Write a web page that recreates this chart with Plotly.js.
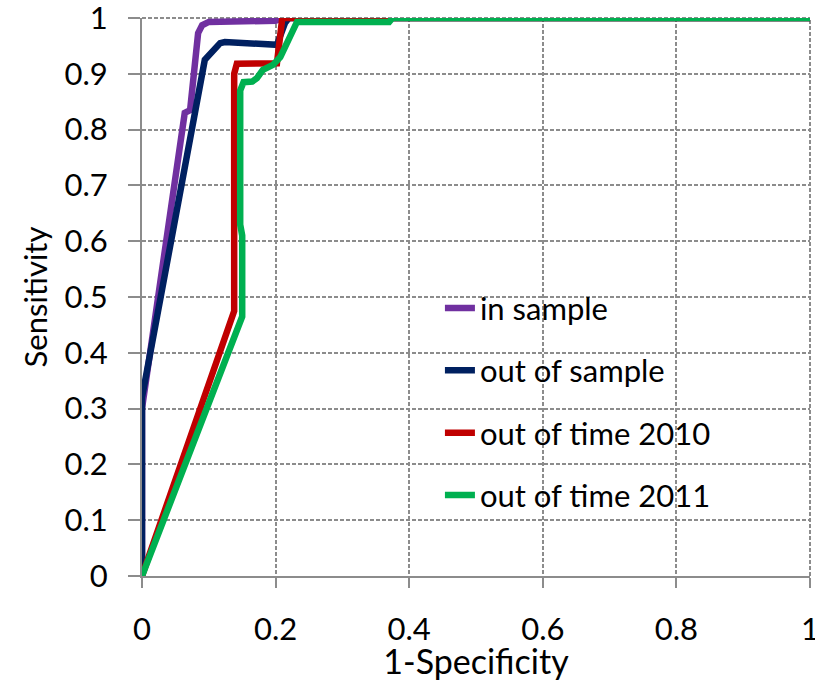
<!DOCTYPE html>
<html>
<head>
<meta charset="utf-8">
<script src="https://cdn.plot.ly/plotly-3.0.1.min.js"></script>
<style>html,body{margin:0;padding:0;background:#fff;}#chart{width:815px;height:681px;}</style>
</head>
<body>
<div id="chart"></div>
<script>
// Series names
const seriesNames = ["in sample", "out of sample", "out of time 2010", "out of time 2011"];
const seriesColors = ["#7030A0", "#002060", "#C00000", "#00B050"];

// in sample
const inSampleX = [0, 0, 0.064, 0.072, 0.084, 0.09, 0.10, 0.13, 0.20, 0.21, 1];
const inSampleY = [0, 0.30, 0.83, 0.835, 0.973, 0.987, 0.993, 0.994, 0.995, 1, 1];

// out of sample
const outSampleX = [0, 0, 0.094, 0.106, 0.117, 0.124, 0.192, 0.202, 0.214, 0.22, 1];
const outSampleY = [0, 0.32, 0.925, 0.939, 0.955, 0.957, 0.952, 0.952, 0.991, 1, 1];

// out of time 2010
const oot2010X = [0, 0.138, 0.138, 0.142, 0.202, 0.208, 0.21, 1];
const oot2010Y = [0, 0.475, 0.90, 0.918, 0.919, 0.99, 1, 1];

// out of time 2011
const oot2011X = [0, 0.15, 0.15, 0.147, 0.147, 0.152, 0.165, 0.172, 0.181, 0.196, 0.207, 0.222, 0.232, 0.37, 0.375, 1];
const oot2011Y = [0, 0.465, 0.61, 0.63, 0.87, 0.885, 0.886, 0.892, 0.907, 0.916, 0.93, 0.966, 0.993, 0.993, 1, 1];

// Tick labels
const xTickVals = [0, 0.2, 0.4, 0.6, 0.8, 1];
const xTickText = ["0", "0.2", "0.4", "0.6", "0.8", "1"];
const yTickVals = [0, 0.1, 0.2, 0.3, 0.4, 0.5, 0.6, 0.7, 0.8, 0.9, 1];
const yTickText = ["0", "0.1", "0.2", "0.3", "0.4", "0.5", "0.6", "0.7", "0.8", "0.9", "1"];

const xs = [inSampleX, outSampleX, oot2010X, oot2011X];
const ys = [inSampleY, outSampleY, oot2010Y, oot2011Y];

const traces = seriesNames.map((n, i) => ({
  x: xs[i], y: ys[i], name: n, type: "scatter", mode: "lines",
  legendgroup: "g" + i,
  line: {color: seriesColors[i], width: 6.5, shape: "linear"},
  cliponaxis: false
}));

const FONT = "Lato, 'Open Sans', sans-serif";
const GRID = "#8c8c8c";
const layout = {
  width: 815, height: 681,
  margin: {l: 142, r: 5, t: 18, b: 105},
  paper_bgcolor: "#fff", plot_bgcolor: "#fff",
  font: {family: FONT, size: 31, color: "#000"},
  showlegend: true,
  legend: {
    x: 0.446, y: 0.528, xanchor: "left", yanchor: "top",
    bgcolor: "rgba(0,0,0,0)", borderwidth: 0,
    font: {family: FONT, size: 31, color: "#000"},
    tracegroupgap: 19, itemwidth: 30
  },
  xaxis: {
    range: [0, 1], tickvals: xTickVals, ticktext: xTickText,
    showgrid: true, gridcolor: GRID, gridwidth: 2, griddash: "4px,2px",
    zeroline: false, showline: true, linecolor: GRID, linewidth: 2,
    ticks: "outside", ticklen: 10, tickwidth: 2, tickcolor: GRID,
    ticklabelstandoff: 15, ticklabeloverflow: "allow",
    tickfont: {family: FONT, size: 31}, fixedrange: true,
    title: {text: "1-Specificity", font: {family: FONT, size: 34}, standoff: 5}
  },
  yaxis: {
    range: [0, 1], tickvals: yTickVals, ticktext: yTickText,
    showgrid: true, gridcolor: GRID, gridwidth: 2, griddash: "4px,2px",
    zeroline: false, showline: true, linecolor: GRID, linewidth: 2,
    ticks: "outside", ticklen: 12, tickwidth: 2, tickcolor: GRID,
    ticklabelstandoff: 14, ticklabeloverflow: "allow",
    tickfont: {family: FONT, size: 31}, fixedrange: true,
    title: {text: "Sensitivity", font: {family: FONT, size: 31}, standoff: 8}
  },
  shapes: [
    {type: "line", xref: "paper", yref: "paper", x0: 0, x1: 1, y0: 1, y1: 1, line: {color: GRID, width: 2, dash: "4px,2px"}, layer: "below"},
    {type: "line", xref: "paper", yref: "paper", x0: 1, x1: 1, y0: 0, y1: 1, line: {color: GRID, width: 2, dash: "4px,2px"}, layer: "below"}
  ]
};

Plotly.newPlot("chart", traces, layout, {staticPlot: true, displayModeBar: false});
</script>
</body>
</html>
